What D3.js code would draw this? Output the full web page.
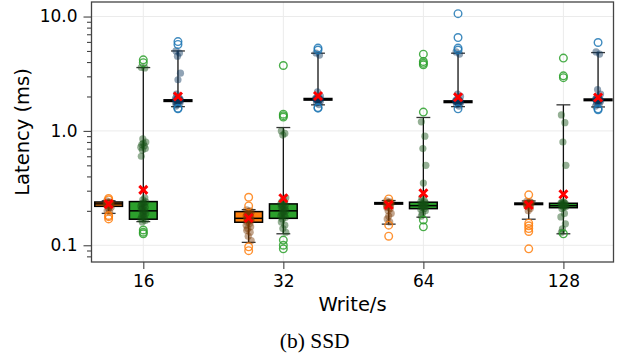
<!DOCTYPE html>
<html>
<head>
<meta charset="utf-8">
<script src="https://cdn.jsdelivr.net/npm/d3@7.9.0/dist/d3.min.js"></script>
<style>
  body { margin: 0; background: #fff; }
  svg { display: block; }
  text { font-family: "DejaVu Sans", sans-serif; fill: #000; }
</style>
</head>
<body>
<svg id="chart" width="619" height="355"></svg>
<script>
// write rates (x categories) and the three series drawn per rate
const rates = ["16", "32", "64", "128"];
const seriesNames = ["s1", "s2", "s3"];
const seriesColors = ["#ff7f0e", "#2ca02c", "#1f77b4"];
const stripColors = ["#7a3a05", "#134f13", "#08345a"];

const yMajorTicks = [0.1, 1, 10];

// box stats per rate: [low whisker, q1, median, q3, high whisker, mean]
const orangeStats = [
  [0.19, 0.219, 0.23, 0.239, 0.245, 0.229],
  [0.106, 0.159, 0.172, 0.197, 0.205, 0.173],
  [0.153, 0.229, 0.233, 0.236, 0.246, 0.225],
  [0.169, 0.227, 0.23, 0.234, 0.244, 0.225]
];
const greenStats = [
  [0.161, 0.169, 0.2, 0.241, 3.58, 0.305],
  [0.126, 0.172, 0.2, 0.23, 1.07, 0.258],
  [0.176, 0.209, 0.222, 0.238, 1.31, 0.285],
  [0.126, 0.213, 0.222, 0.233, 1.69, 0.279]
];
const blueStats = [
  [1.63, 1.81, 1.84, 1.87, 5.0, 2.0],
  [1.69, 1.86, 1.89, 1.92, 4.78, 2.02],
  [1.63, 1.77, 1.80, 1.83, 4.78, 1.97],
  [1.62, 1.84, 1.87, 1.90, 4.84, 1.96]
];

// outliers (hollow circles)
const orangeFliers = [
  [0.257, 0.25, 0.182, 0.178, 0.17],
  [0.263, 0.221, 0.097, 0.0897],
  [0.254, 0.15, 0.12],
  [0.276, 0.156, 0.148, 0.14, 0.132, 0.093]
];
const greenFliers = [
  [4.18, 3.95, 0.136, 0.13, 0.126],
  [3.73, 1.4, 1.36, 1.32, 0.111, 0.1, 0.093],
  [4.69, 4.04, 3.9, 3.78, 1.46, 0.166, 0.145],
  [4.33, 3.03, 2.92, 0.126]
];
const blueFliers = [
  [6.04, 5.7, 1.58, 1.56],
  [5.3, 5.1, 1.6, 1.58],
  [10.6, 6.55, 5.3, 5.1, 1.56],
  [5.93, 1.56, 1.53]
];

// individual samples (dark translucent dots)
const orangePoints = [
  [0.245, 0.24, 0.237, 0.235, 0.233, 0.232, 0.23, 0.229, 0.228, 0.226, 0.225, 0.222, 0.22, 0.215, 0.21, 0.2, 0.195],
  [0.204, 0.2, 0.197, 0.195, 0.19, 0.187, 0.185, 0.18, 0.177, 0.175, 0.172, 0.17, 0.168, 0.165, 0.162, 0.16, 0.155, 0.15, 0.145, 0.14, 0.135, 0.13, 0.12, 0.11],
  [0.245, 0.24, 0.236, 0.235, 0.233, 0.232, 0.23, 0.228, 0.225, 0.22, 0.215, 0.21, 0.2, 0.19, 0.18, 0.17, 0.16],
  [0.242, 0.24, 0.236, 0.235, 0.232, 0.23, 0.229, 0.228, 0.226, 0.225, 0.22, 0.21, 0.2]
];
const greenPoints = [
  [3.6, 3.55, 0.85, 0.8, 0.78, 0.76, 0.74, 0.72, 0.7, 0.68, 0.6, 0.26, 0.25, 0.24, 0.235, 0.23, 0.225, 0.22, 0.215, 0.21, 0.205, 0.2, 0.195, 0.19, 0.185, 0.18, 0.175, 0.17, 0.165, 0.16],
  [1.0, 0.95, 0.92, 0.26, 0.25, 0.24, 0.235, 0.23, 0.225, 0.22, 0.215, 0.21, 0.205, 0.2, 0.195, 0.19, 0.185, 0.18, 0.175, 0.17, 0.16, 0.15, 0.14, 0.13],
  [1.2, 0.9, 0.7, 0.5, 0.35, 0.26, 0.245, 0.24, 0.235, 0.23, 0.228, 0.225, 0.222, 0.22, 0.218, 0.215, 0.21, 0.205, 0.2, 0.19, 0.18],
  [1.38, 1.18, 0.8, 0.5, 0.24, 0.237, 0.235, 0.232, 0.23, 0.228, 0.225, 0.222, 0.22, 0.218, 0.215, 0.21, 0.19, 0.177, 0.154, 0.139, 0.13]
];
const bluePoints = [
  [5.0, 4.8, 4.5, 3.2, 2.8, 2.1, 1.95, 1.92, 1.9, 1.88, 1.87, 1.86, 1.85, 1.84, 1.83, 1.82, 1.8, 1.78, 1.75, 1.7, 1.65],
  [4.8, 4.6, 2.2, 2.0, 1.97, 1.95, 1.93, 1.92, 1.9, 1.89, 1.88, 1.87, 1.85, 1.83, 1.8, 1.75, 1.7],
  [4.9, 4.7, 2.1, 2.0, 1.9, 1.87, 1.85, 1.83, 1.82, 1.81, 1.8, 1.79, 1.78, 1.76, 1.75, 1.7, 1.65],
  [4.9, 4.7, 2.3, 2.1, 2.0, 1.95, 1.92, 1.9, 1.88, 1.87, 1.86, 1.85, 1.84, 1.82, 1.8, 1.75, 1.7, 1.65]
];

const allStats = [orangeStats, greenStats, blueStats];
const allFliers = [orangeFliers, greenFliers, blueFliers];
const allPoints = [orangePoints, greenPoints, bluePoints];

// small fixed horizontal spread for the dots
const jitter = [-2, 1.5, -0.5, 2.5, 0, -1.5, 1, -2.5, 2, -1];

const plot = { left: 91.5, right: 613.5, top: 2, bottom: 262 };

const svg = d3.select("#chart");

const x = d3.scalePoint().domain(rates).range([143.3, 563.4]);
const offset = d3.scaleBand().domain(seriesNames).range([-52, 52]);
const boxW = offset.bandwidth() * 0.8;
const y = d3.scaleLog().domain([0.0714, 13.4]).range([plot.bottom, plot.top]);

const cx = (r, s) => x(r) + offset(seriesNames[s]) + offset.bandwidth() / 2;

// grid
const grid = svg.append("g");
grid.selectAll(".gy").data(yMajorTicks).join("line")
  .attr("x1", plot.left).attr("x2", plot.right)
  .attr("y1", d => y(d)).attr("y2", d => y(d))
  .attr("stroke", "#ebebeb").attr("stroke-width", 1);
grid.selectAll(".gx").data(rates).join("line")
  .attr("x1", d => x(d)).attr("x2", d => x(d))
  .attr("y1", plot.top).attr("y2", plot.bottom)
  .attr("stroke", "#ebebeb").attr("stroke-width", 1);

// boxes
const marks = svg.append("g");
allStats.forEach((stats, s) => {
  stats.forEach(([lo, q1, med, q3, hi], i) => {
    const c = cx(rates[i], s);
    marks.append("line")
      .attr("x1", c).attr("x2", c).attr("y1", y(q3)).attr("y2", y(hi))
      .attr("stroke", "#111").attr("stroke-width", 1.3);
    marks.append("line")
      .attr("x1", c).attr("x2", c).attr("y1", y(q1)).attr("y2", y(lo))
      .attr("stroke", "#111").attr("stroke-width", 1.3);
    [lo, hi].forEach(v => {
      marks.append("line")
        .attr("x1", c - boxW / 4).attr("x2", c + boxW / 4)
        .attr("y1", y(v)).attr("y2", y(v))
        .attr("stroke", "#333").attr("stroke-width", 1.3);
    });
    marks.append("rect")
      .attr("x", c - boxW / 2).attr("width", boxW)
      .attr("y", y(q3)).attr("height", Math.max(0.5, y(q1) - y(q3)))
      .attr("fill", seriesColors[s])
      .attr("stroke", "#000").attr("stroke-width", 1.5);
    marks.append("line")
      .attr("x1", c - boxW / 2).attr("x2", c + boxW / 2)
      .attr("y1", y(med)).attr("y2", y(med))
      .attr("stroke", "#000").attr("stroke-width", 1.5);
  });
});

// strip dots
allPoints.forEach((groups, s) => {
  groups.forEach((vals, i) => {
    marks.append("g").selectAll("circle").data(vals).join("circle")
      .attr("cx", (d, k) => cx(rates[i], s) + jitter[k % jitter.length])
      .attr("cy", d => y(d))
      .attr("r", 3.6)
      .attr("fill", stripColors[s])
      .attr("fill-opacity", 0.45);
  });
});

// fliers
allFliers.forEach((groups, s) => {
  groups.forEach((vals, i) => {
    marks.append("g").selectAll("circle").data(vals).join("circle")
      .attr("cx", cx(rates[i], s))
      .attr("cy", d => y(d))
      .attr("r", 3.8)
      .attr("fill", "none")
      .attr("stroke", seriesColors[s])
      .attr("stroke-opacity", 0.85)
      .attr("stroke-width", 1.4);
  });
});

// means
allStats.forEach((stats, s) => {
  stats.forEach((d, i) => {
    marks.append("path")
      .attr("transform", `translate(${cx(rates[i], s)},${y(d[5])})`)
      .attr("d", "M-4,-4L4,4M-4,4L4,-4")
      .attr("stroke", "#ff0000").attr("stroke-width", 3);
  });
});

// axes
svg.append("g").attr("transform", `translate(${plot.left},0)`)
  .call(d3.axisLeft(y).tickValues(yMajorTicks).tickFormat(d3.format(".1f")).tickSize(8).tickPadding(6));
const minorTicks = [0.08, 0.09, 0.2, 0.3, 0.4, 0.5, 0.6, 0.7, 0.8, 0.9,
  2, 3, 4, 5, 6, 7, 8, 9];
svg.append("g").attr("transform", `translate(${plot.left},0)`)
  .call(d3.axisLeft(y).tickValues(minorTicks).tickFormat("").tickSize(4.5));

svg.append("g").attr("transform", `translate(0,${plot.bottom})`)
  .call(d3.axisBottom(x).tickSize(7).tickPadding(5.5));

svg.selectAll(".tick line").attr("stroke", "#444").attr("stroke-width", 1.1);
svg.selectAll(".tick text").style("font-family", "DejaVu Sans").style("font-size", "17px").attr("fill", "#000");
svg.selectAll(".domain").remove();

svg.append("rect")
  .attr("x", plot.left).attr("y", plot.top)
  .attr("width", plot.right - plot.left).attr("height", plot.bottom - plot.top)
  .attr("fill", "none").attr("stroke", "#444").attr("stroke-width", 1.3);

// labels
svg.append("text")
  .attr("transform", `translate(29,132) rotate(-90)`)
  .attr("text-anchor", "middle")
  .style("font-size", "19.5px")
  .text("Latency (ms)");

svg.append("text")
  .attr("x", (plot.left + plot.right) / 2).attr("y", 311)
  .attr("text-anchor", "middle")
  .style("font-size", "19.5px")
  .text("Write/s");

svg.append("text")
  .attr("x", 314.7).attr("y", 347.5)
  .attr("text-anchor", "middle")
  .style("font-family", "'Liberation Serif', serif")
  .style("font-size", "21.5px")
  .text("(b) SSD");
</script>
</body>
</html>
